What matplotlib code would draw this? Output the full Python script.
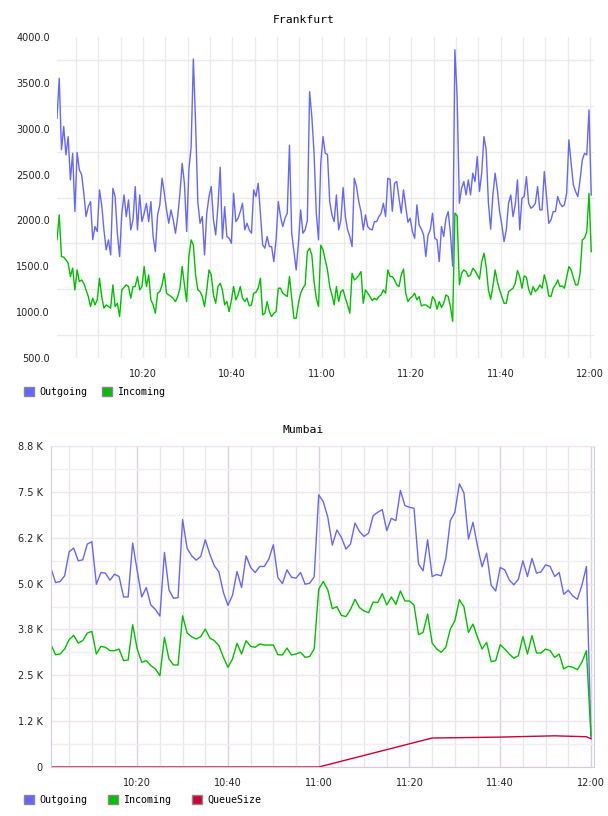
import matplotlib
matplotlib.use('Agg')
import matplotlib.pyplot as plt
import matplotlib.dates as mdates
from matplotlib.patches import Patch
from matplotlib.ticker import FixedLocator, FixedFormatter, MultipleLocator, FormatStrFormatter
import pandas as pd

# Frankfurt: one sample every 30 s starting 10:00:47
fra_outgoing = [
    3114, 3550, 2770, 3023, 2714, 2914, 2442, 2732, 2097, 2740,
    2551, 2500, 2296, 2042, 2150, 2206, 1790, 1933, 1879, 2333,
    2169, 1897, 1679, 1788, 1624, 2350, 2260, 1860, 1606, 2078,
    2278, 2042, 2224, 1897, 2006, 2369, 1897, 2278, 1987, 2078,
    2187, 1987, 2206, 1824, 1660, 2060, 2169, 2460, 2300, 2115,
    1969, 2115, 2006, 1860, 2042, 2296, 2623, 2405, 1879, 2551,
    2800, 3760, 3060, 2200, 1969, 2042, 1624, 2078, 2260, 2369,
    2006, 1842, 2151, 2580, 1800, 2150, 1824, 1806, 1751, 2296,
    1987, 2024, 2097, 2187, 1897, 1969, 1897, 1860, 2333, 2260,
    2405, 2078, 1733, 1697, 1824, 1715, 1715, 1551, 1788, 2206,
    2042, 1933, 2024, 2078, 2820, 1860, 1660, 1460, 1751, 2115,
    1860, 1897, 2000, 3404, 3132, 2732, 2078, 1788, 2623, 2914,
    2732, 2720, 2206, 2060, 1987, 2278, 1897, 2006, 2360, 2042,
    1897, 1824, 1715, 2460, 2369, 2206, 2097, 1897, 2060, 1933,
    1905, 1897, 1987, 1987, 2042, 2078, 2187, 2042, 2460, 2450,
    2100, 2405, 2424, 2242, 2080, 2333, 2151, 1980, 2024, 1879,
    1806, 2169, 1951, 1905, 1842, 1606, 1842, 1897, 2078, 1806,
    1788, 1551, 1933, 1824, 2024, 2097, 1860, 1500, 3860, 3350,
    2187, 2351, 2424, 2278, 2442, 2278, 2515, 2424, 2696, 2315,
    2515, 2914, 2768, 2187, 1905, 2278, 2515, 2333, 2097, 1951,
    1769, 1897, 2187, 2278, 2042, 2169, 2442, 1897, 2242, 2260,
    2478, 2187, 2133, 2151, 2187, 2369, 2115, 2115, 2533, 2260,
    1969, 2006, 2097, 2097, 2260, 2187, 2151, 2169, 2296, 2878,
    2623, 2387, 2315, 2260, 2442, 2660, 2732, 2714, 3205, 2278,
]
fra_incoming = [
    1788, 2060, 1606, 1600, 1570, 1533, 1388, 1480, 1243, 1460,
    1333, 1351, 1315, 1243, 1170, 1061, 1152, 1079, 1134, 1370,
    1170, 1043, 1079, 1061, 1043, 1297, 1061, 1097, 952, 1243,
    1272, 1297, 1279, 1152, 1279, 1279, 1388, 1243, 1279, 1497,
    1279, 1406, 1134, 1079, 988, 1206, 1224, 1297, 1424, 1206,
    1188, 1170, 1152, 1115, 1170, 1261, 1497, 1297, 1115, 1606,
    1788, 1733, 1406, 1243, 1224, 1170, 1061, 1243, 1460, 1406,
    1188, 1097, 1279, 1315, 1243, 1080, 1115, 1006, 1127, 1279,
    1134, 1188, 1279, 1152, 1115, 1152, 1068, 1079, 1206, 1217,
    1261, 1370, 970, 988, 1115, 1006, 952, 988, 1006, 1261,
    1261, 1206, 1188, 1170, 1390, 1152, 934, 934, 1097, 1206,
    1261, 1297, 1660, 1697, 1624, 1333, 1152, 1061, 1730, 1679,
    1570, 1460, 1279, 1188, 1079, 1279, 1115, 1224, 1243, 1152,
    1079, 988, 1424, 1351, 1370, 1400, 1442, 1097, 1243, 1206,
    1170, 1127, 1152, 1134, 1170, 1188, 1243, 1206, 1460, 1388,
    1388, 1351, 1297, 1279, 1406, 1470, 1206, 1115, 1152, 1170,
    1206, 1134, 1170, 1068, 1079, 1079, 1061, 1043, 1170, 1134,
    1032, 1115, 1050, 1097, 1188, 1170, 1061, 900, 2080, 2050,
    1297, 1424, 1460, 1442, 1388, 1406, 1478, 1453, 1406, 1360,
    1551, 1642, 1497, 1243, 1141, 1279, 1460, 1333, 1243, 1170,
    1097, 1097, 1224, 1243, 1261, 1315, 1453, 1388, 1261, 1395,
    1380, 1250, 1188, 1279, 1224, 1250, 1297, 1261, 1406, 1315,
    1177, 1170, 1261, 1297, 1351, 1279, 1286, 1261, 1380, 1497,
    1460, 1377, 1297, 1297, 1424, 1788, 1806, 1879, 2296, 1660,
]

# Mumbai: one sample per minute, 10:01 .. 12:00
mum_outgoing = [
    5420, 5027, 5055, 5210, 5867, 5967, 5620, 5648, 6077, 6140,
    4982, 5301, 5283, 5091, 5256, 5192, 4635, 4635, 6104, 5347,
    4635, 4891, 4416, 4297, 4115, 5849, 4827, 4599, 4617, 6743,
    5958, 5757, 5639, 5739, 6195, 5803, 5484, 5320, 4754, 4407,
    4681, 5329, 4891, 5757, 5438, 5301, 5466, 5466, 5666, 6058,
    5164, 5000, 5374, 5173, 5146, 5301, 4982, 5010, 5183, 7418,
    7235, 6807, 6049, 6460, 6259, 5940, 6077, 6651, 6414, 6286,
    6378, 6852, 6943, 7016, 6442, 6779, 6715, 7537, 7126, 7080,
    7053, 5529, 5347, 6195, 5192, 5246, 5210, 5684, 6715, 6943,
    7719, 7473, 6214, 6670, 6013, 5456, 5830, 4954, 4799, 5438,
    5374, 5100, 4964, 5119, 5620, 5192, 5684, 5283, 5320, 5511,
    5466, 5192, 5301, 4708, 4818, 4662, 4571, 4954, 5466, 800,
]
mum_incoming = [
    3334, 3062, 3080, 3216, 3470, 3588, 3379, 3443, 3651, 3697,
    3080, 3289, 3262, 3171, 3171, 3216, 2899, 2917, 3878, 3216,
    2854, 2899, 2763, 2673, 2492, 3533, 2945, 2781, 2781, 4122,
    3651, 3552, 3488, 3552, 3760, 3515, 3443, 3307, 2990, 2718,
    2945, 3370, 3080, 3443, 3289, 3262, 3352, 3325, 3325, 3325,
    3062, 3053, 3243, 3053, 3080, 3126, 2990, 3010, 3216, 4845,
    5055, 4827, 4316, 4370, 4133, 4100, 4297, 4571, 4343, 4252,
    4206, 4498, 4480, 4726, 4416, 4635, 4434, 4799, 4526, 4526,
    4416, 3606, 3670, 4168, 3379, 3216, 3126, 3262, 3760, 3986,
    4560, 4367, 3670, 3896, 3533, 3216, 3398, 2872, 2899, 3334,
    3216, 3080, 2963, 3035, 3552, 3080, 3579, 3108, 3108, 3216,
    3171, 2990, 3080, 2673, 2745, 2718, 2654, 2854, 3171, 850,
]
queue_clock = ['10:01', '11:00', '11:25', '11:40', '11:52', '11:59', '12:00']
queue_size = [0, 0, 790, 815, 850, 825, 770]

mum_ticks = [0, 1250, 2500, 3750, 5000, 6250, 7500, 8750]
mum_ticklabels = ['0', '1.2 K', '2.5 K', '3.8 K', '5.0 K', '6.2 K', '7.5 K', '8.8 K']

DAY = '2015-06-01 '
fra_times = pd.date_range(DAY + '10:00:47', periods=len(fra_outgoing), freq='30s')
mum_times = pd.date_range(DAY + '10:01:00', periods=len(mum_outgoing), freq='1min')
queue_times = pd.to_datetime([DAY + t for t in queue_clock])

BLUE = '#6666ff'
GREEN = '#00c000'
RED = '#cc0033'
MONO = 'DejaVu Sans Mono'

fig = plt.figure(figsize=(6.08, 8.16), dpi=100)

# ---- Frankfurt
ax1 = fig.add_axes([57 / 608, 1 - 358 / 816, 537 / 608, 321 / 816])
ax1.plot(fra_times, fra_outgoing, color=BLUE, lw=1.0)
ax1.plot(fra_times, fra_incoming, color=GREEN, lw=1.0)
ax1.set_xlim(pd.Timestamp(DAY + '10:00:47'), pd.Timestamp(DAY + '12:00:54'))
ax1.set_ylim(500, 4000)
ax1.yaxis.set_major_locator(MultipleLocator(500))
ax1.yaxis.set_major_formatter(FormatStrFormatter('%.1f'))
ax1.yaxis.set_minor_locator(FixedLocator(list(range(750, 4000, 500))))
ax1.xaxis.set_major_locator(mdates.MinuteLocator(byminute=[0, 20, 40]))
ax1.xaxis.set_minor_locator(mdates.MinuteLocator(byminute=range(0, 60, 5)))
ax1.xaxis.set_major_formatter(mdates.DateFormatter('%H:%M'))
ax1.grid(True, which='minor', color='#ebebeb', lw=1)
ax1.grid(True, which='major', axis='x', color='#ebebeb', lw=1)
ax1.set_axisbelow(True)
for s in ax1.spines.values():
    s.set_visible(False)
ax1.tick_params(which='both', length=0, labelsize=7, labelcolor='#222222')
ax1.tick_params(axis='y', pad=5)
ax1.tick_params(axis='x', pad=8)
fig.text(304 / 608, 1 - 20 / 816, 'Frankfurt', ha='center', va='center',
         family=MONO, fontsize=8.2)

leg1 = [Patch(facecolor=BLUE, edgecolor='#888888', lw=1),
        Patch(facecolor=GREEN, edgecolor='#888888', lw=1)]
fig.legend(leg1, ['Outgoing', 'Incoming'], loc='center left',
           bbox_to_anchor=(24 / 608, 1 - 392 / 816), ncol=2, frameon=False,
           prop={'family': MONO, 'size': 7.2}, handlelength=1.0, handleheight=1.0,
           handletextpad=0.5, columnspacing=1.5, borderpad=0, borderaxespad=0)

# ---- Mumbai
ax2 = fig.add_axes([51 / 608, 1 - 767 / 816, 543 / 608, 321 / 816])
ax2.plot(mum_times, mum_outgoing, color=BLUE, lw=1.0)
ax2.plot(mum_times, mum_incoming, color=GREEN, lw=1.0)
ax2.plot(queue_times, queue_size, color=RED, lw=1.0)
ax2.set_xlim(pd.Timestamp(DAY + '10:01:00'), pd.Timestamp(DAY + '12:00:40'))
ax2.set_ylim(0, 8750)
ax2.yaxis.set_major_locator(FixedLocator(mum_ticks))
ax2.yaxis.set_major_formatter(FixedFormatter(mum_ticklabels))
ax2.yaxis.set_minor_locator(FixedLocator([t + 625 for t in mum_ticks[:-1]]))
ax2.xaxis.set_major_locator(mdates.MinuteLocator(byminute=[0, 20, 40]))
ax2.xaxis.set_minor_locator(mdates.MinuteLocator(byminute=range(0, 60, 5)))
ax2.xaxis.set_major_formatter(mdates.DateFormatter('%H:%M'))
ax2.grid(True, which='major', axis='y', color='#f0e4ef', lw=1)
ax2.grid(True, which='minor', axis='y', color='#f2eef2', lw=1)
ax2.grid(True, which='major', axis='x', color='#dccfe0', lw=1)
ax2.grid(True, which='minor', axis='x', color='#ebe6ee', lw=1)
ax2.set_axisbelow(True)
for side in ['left', 'right', 'bottom']:
    ax2.spines[side].set_color('#d9c9dd')
ax2.spines['top'].set_color('#f0e4ef')
ax2.tick_params(which='both', length=0, labelsize=7, labelcolor='#222222')
ax2.tick_params(axis='y', pad=6)
ax2.tick_params(axis='x', pad=8)
fig.text(303 / 608, 1 - 430 / 816, 'Mumbai', ha='center', va='center',
         family=MONO, fontsize=8.2)

leg2 = [Patch(facecolor=BLUE, edgecolor='#888888', lw=1),
        Patch(facecolor=GREEN, edgecolor='#888888', lw=1),
        Patch(facecolor=RED, edgecolor='#888888', lw=1)]
fig.legend(leg2, ['Outgoing', 'Incoming', 'QueueSize'], loc='center left',
           bbox_to_anchor=(24 / 608, 1 - 800 / 816), ncol=3, frameon=False,
           prop={'family': MONO, 'size': 7.2}, handlelength=1.0, handleheight=1.0,
           handletextpad=0.5, columnspacing=2.1, borderpad=0, borderaxespad=0)

fig.savefig('out.png', dpi=100)
